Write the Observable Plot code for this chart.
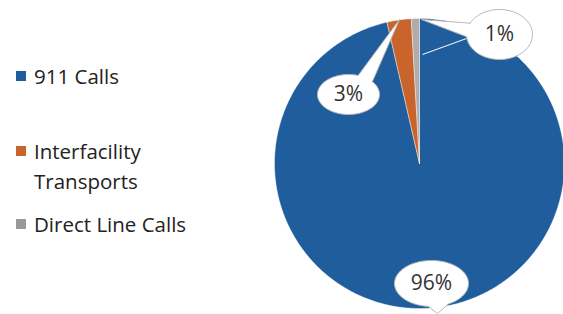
<!DOCTYPE html>
<html>
<head>
<meta charset="utf-8">
<script src="https://cdn.jsdelivr.net/npm/d3@7"></script>
<script src="https://cdn.jsdelivr.net/npm/@observablehq/plot@0.6"></script>
<style>
  html, body { margin: 0; padding: 0; background: #fff; }
  #wrap { position: relative; width: 563px; height: 314px; overflow: hidden; font-family: "Open Sans", sans-serif; }
  #chart { position: absolute; left: 0; top: 0; }
  .leg { position: absolute; left: 15px; font-size: 20.5px; color: #222; line-height: 30px; }
  .sw { position: absolute; left: 1px; width: 10px; height: 10px; }
  .lt { position: absolute; left: 19px; white-space: nowrap; }
</style>
</head>
<body>
<div id="wrap">
  <div id="chart"></div>
  <div id="legend"></div>
</div>
<script>
// ---- data ----
const categories = ["911 Calls", "Interfacility Transports", "Direct Line Calls"];
const legendLines = [["911 Calls"], ["Interfacility", "Transports"], ["Direct Line Calls"]];
const values = [96.4, 2.7, 0.9];
const labels = ["96%", "3%", "1%"];
const colors = ["#1f5d9c", "#c9652c", "#b0acac"];

// ---- layout (pixels) ----
const W = 563, H = 314;
const CX = 419, CY = 163, R = 145;
// callout bubbles: center, radii, tail tip (in pixels)
const callouts = [
  {cx: 431, cy: 283, rx: 37, ry: 23, tx: 437, ty: 313},
  {cx: 348, cy: 94, rx: 31, ry: 20, tx: 399, ty: 19},
  {cx: 499, cy: 34, rx: 33, ry: 25, tx: 421, ty: 19}
];
const legendTops = [61, 136, 209];
const swatchOffsets = [10, 10, 10];

// convert pixel to data units
const ux = px => (px - CX) / R;
const uy = py => (CY - py) / R;

const rows = categories.map((c, i) => ({cat: c, value: values[i], label: labels[i]}));
const arcs = d3.pie().sort(null).value(d => d.value).startAngle(0).endAngle(2 * Math.PI)(rows);

// slice polygons
const slicePts = [];
arcs.forEach(a => {
  slicePts.push({cat: a.data.cat, x: 0, y: 0});
  const n = Math.max(4, Math.ceil((a.endAngle - a.startAngle) / 0.01));
  for (let k = 0; k <= n; k++) {
    const t = a.startAngle + (a.endAngle - a.startAngle) * k / n;
    slicePts.push({cat: a.data.cat, x: Math.sin(t), y: Math.cos(t)});
  }
  slicePts.push({cat: a.data.cat, x: 0, y: 0});
});

// callout polygons (ellipse with a pointed tail)
const bubblePts = [];
callouts.forEach((c, i) => {
  const th = Math.atan2(c.ty - c.cy, c.tx - c.cx);
  const d = 0.28;
  const n = 80;
  for (let k = 0; k <= n; k++) {
    const t = th + d + (2 * Math.PI - 2 * d) * k / n;
    bubblePts.push({id: i, x: ux(c.cx + c.rx * Math.cos(t)), y: uy(c.cy + c.ry * Math.sin(t))});
  }
  bubblePts.push({id: i, x: ux(c.tx), y: uy(c.ty)});
  const t0 = th + d;
  bubblePts.push({id: i, x: ux(c.cx + c.rx * Math.cos(t0)), y: uy(c.cy + c.ry * Math.sin(t0))});
});

const labelPts = arcs.map((a, i) => ({label: a.data.label, x: ux(callouts[i].cx), y: uy(callouts[i].cy)}));
// leader line for the smallest slice
const leader = [{x1: ux(466), y1: uy(38), x2: ux(422), y2: uy(54)}];

const plot = Plot.plot({
  width: W, height: H,
  margin: 0,
  x: {domain: [ux(0), ux(W)], range: [0, W], axis: null},
  y: {domain: [uy(H), uy(0)], range: [H, 0], axis: null},
  color: {domain: categories, range: colors},
  marks: [
    Plot.line(slicePts, {x: "x", y: "y", z: "cat", fill: "cat", stroke: "#ffffff", strokeWidth: 0.4, curve: "linear"}),
    Plot.link(leader, {x1: "x1", y1: "y1", x2: "x2", y2: "y2", stroke: "#e8eef6", strokeWidth: 1.2}),
    Plot.line(bubblePts, {x: "x", y: "y", z: "id", fill: "#ffffff", stroke: "#b8b8b8", strokeWidth: 1, curve: "linear"}),
    Plot.text(labelPts, {x: "x", y: "y", text: "label", fontSize: 21, fill: "#333", fontFamily: "Open Sans"})
  ]
});
document.getElementById("chart").appendChild(plot);

// legend
const leg = document.getElementById("legend");
categories.forEach((c, i) => {
  const item = document.createElement("div");
  item.className = "leg";
  item.style.top = legendTops[i] + "px";
  const sw = document.createElement("div");
  sw.className = "sw";
  sw.style.background = i === 2 ? "#999" : colors[i];
  sw.style.top = swatchOffsets[i] + "px";
  item.appendChild(sw);
  const lt = document.createElement("div");
  lt.className = "lt";
  lt.innerHTML = legendLines[i].join("<br>");
  item.appendChild(lt);
  leg.appendChild(item);
});
</script>
</body>
</html>
